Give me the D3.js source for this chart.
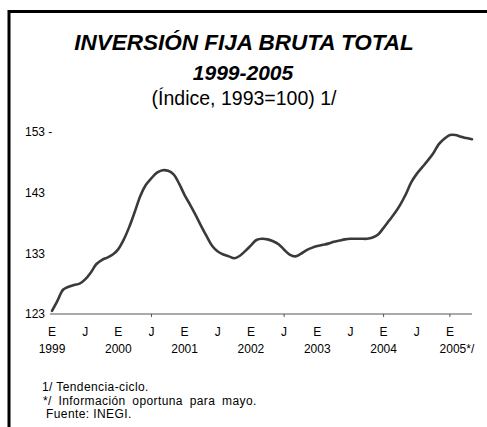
<!DOCTYPE html>
<html>
<head>
<meta charset="utf-8">
<script src="https://cdn.jsdelivr.net/npm/d3@7"></script>
<style>
  body { margin: 0; background: #fff; }
  svg { display: block; font-family: "Liberation Sans", Arial, sans-serif; }
</style>
</head>
<body>
<svg width="487" height="427"></svg>
<script>
// monthly values, tendencia-ciclo (1993=100)
var v1999 = [123.5, 125.2, 127.0, 127.5, 127.8, 128.0, 128.7, 129.8, 131.2, 131.9, 132.3, 132.8];
var v2000 = [133.7, 135.3, 137.4, 139.9, 142.5, 144.3, 145.4, 146.3, 146.7, 146.6, 146.0, 144.5];
var v2001 = [142.6, 141.0, 139.3, 137.5, 135.8, 134.2, 133.3, 132.8, 132.5, 132.2, 132.6, 133.4];
var v2002 = [134.3, 135.2, 135.4, 135.3, 135.0, 134.5, 133.6, 132.8, 132.5, 132.9, 133.5, 133.9];
var v2003 = [134.2, 134.4, 134.6, 134.9, 135.1, 135.3, 135.4, 135.4, 135.4, 135.4, 135.6, 136.1];
var v2004 = [137.2, 138.4, 139.6, 141.0, 142.7, 144.7, 146.1, 147.2, 148.3, 149.5, 151.0, 151.9];
var v2005 = [152.5, 152.5, 152.2, 152.0, 151.8];

var values = [].concat(v1999, v2000, v2001, v2002, v2003, v2004, v2005);

var monthLabels = ["E", "J", "E", "J", "E", "J", "E", "J", "E", "J", "E", "J", "E"];
var yearLabels = ["1999", "2000", "2001", "2002", "2003", "2004", "2005*/"];
var yTicks = [123, 133, 143, 153];
var tickMarks = [18, 42, 60, 72];   // month index where the axis has small marks

var svg = d3.select("svg");

var x = d3.scaleLinear().domain([0, 76]).range([52, 472]);
var y = d3.scaleLinear().domain([123, 153]).range([314, 132]);

// frame
svg.append("path")
    .attr("d", "M9,427V11.5H487")
    .attr("fill", "none")
    .attr("stroke", "#000")
    .attr("stroke-width", 3);

// titles
svg.append("text")
    .attr("x", 244).attr("y", 50)
    .attr("text-anchor", "middle")
    .style("font-size", "22.5px").style("font-weight", "bold").style("font-style", "italic")
    .text("INVERSIÓN FIJA BRUTA TOTAL");
svg.append("text")
    .attr("x", 243).attr("y", 80)
    .attr("text-anchor", "middle")
    .style("font-size", "21px").style("font-weight", "bold").style("font-style", "italic")
    .text("1999-2005");
svg.append("text")
    .attr("x", 244).attr("y", 105)
    .attr("text-anchor", "middle")
    .style("font-size", "19.5px")
    .text("(Índice, 1993=100) 1/");

// y labels
var yAxis = svg.append("g")
    .attr("transform", "translate(25,0)")
    .call(d3.axisLeft(y).tickValues(yTicks).tickSize(0)
        .tickFormat(function(d) { return d == 153 ? d + " -" : d; }));
yAxis.select(".domain").remove();
yAxis.selectAll("text")
    .attr("x", 0)
    .attr("text-anchor", "start")
    .style("font-size", "12px")
    .attr("fill", "#000");

// x axis line
svg.append("line")
    .attr("x1", x(0) - 2).attr("x2", x(76))
    .attr("y1", y(123)).attr("y2", y(123))
    .attr("stroke", "#555").attr("stroke-width", 1);

svg.selectAll(".tm").data(tickMarks).enter().append("line")
    .attr("x1", function(d) { return x(d); }).attr("x2", function(d) { return x(d); })
    .attr("y1", y(123)).attr("y2", y(123) + 3)
    .attr("stroke", "#555").attr("stroke-width", 1);

svg.selectAll(".ml").data(monthLabels).enter().append("text")
    .attr("x", function(d, i) { return x(i * 6); })
    .attr("y", 336)
    .attr("text-anchor", "middle")
    .style("font-size", "12px")
    .text(function(d) { return d; });

svg.selectAll(".yl").data(yearLabels).enter().append("text")
    .attr("x", function(d, i) { return x(i * 12) + (i == 6 ? 7 : 0); })
    .attr("y", 353)
    .attr("text-anchor", "middle")
    .style("font-size", "12px")
    .text(function(d) { return d; });

// series
var line = d3.line()
    .x(function(d, i) { return x(i); })
    .y(function(d) { return y(d); })
    .curve(d3.curveCatmullRom);

svg.append("path")
    .datum(values)
    .attr("fill", "none")
    .attr("stroke", "#3a3a3a")
    .attr("stroke-width", 2.6)
    .attr("stroke-linejoin", "round")
    .attr("stroke-linecap", "round")
    .attr("d", line);

// notes
var notes = svg.append("g")
    .style("font-size", "12px")
    .style("letter-spacing", "0.4px");
notes.append("text").attr("x", 42).attr("y", 391).text("1/ Tendencia-ciclo.");
notes.append("text").attr("x", 43).attr("y", 404.5)
    .style("word-spacing", "3px")
    .text("*/ Información oportuna para mayo.");
notes.append("text").attr("x", 46).attr("y", 418).text("Fuente: INEGI.");
</script>
</body>
</html>
